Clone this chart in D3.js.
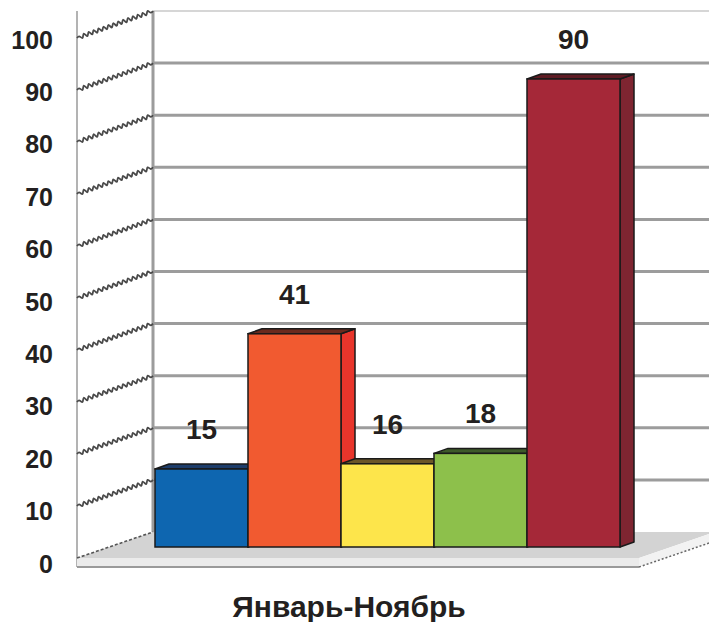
<!DOCTYPE html>
<html><head><meta charset="utf-8">
<script src="https://cdn.jsdelivr.net/npm/d3@7"></script>
<style>
html,body{margin:0;padding:0;background:#fff;}
svg{display:block;}
text{font-family:"Liberation Sans",Arial,sans-serif;font-weight:bold;fill:#231f20;}
</style></head>
<body>
<script>
// ---- data ----
const categories = ["A","B","C","D","E"];
const values = [15, 41, 16, 18, 90];
const barColors = ["#0e66b0", "#f15a30", "#fde54b", "#8dc04b", "#a52838"];
const topColors = ["#1d3d6b", "#6a2a1e", "#6b5628", "#3e5a2a", "#5e1c24"];
const sideColors = ["#0b4f8a", "#e8352b", "#d9bf2e", "#6f9a35", "#7e2531"];
const tickValues = [0,10,20,30,40,50,60,70,80,90,100];
const xTitle = "Январь-Ноябрь";

const W = 709, H = 622;
const svg = d3.select("body").append("svg").attr("width", W).attr("height", H);

// planes: front edge of left wall, bar plane, back wall
const yFront = d3.scaleLinear().domain([0,100]).range([558, 38]);
const yBar   = d3.scaleLinear().domain([0,100]).range([547, 27]);
const yBack  = d3.scaleLinear().domain([0,100]).range([532, 11]);
const yLabel = d3.scaleLinear().domain([0,100]).range([564, 40]);
const xFront = 77, xBack = 153, xRight = 715;
const x = d3.scaleBand().domain(categories).range([155, 620]).padding(0);
const depthX = 14, depthY = -5;

// back wall top line
svg.append("line").attr("x1", xBack).attr("x2", W).attr("y1", yBack(100)).attr("y2", yBack(100))
  .attr("stroke", "#c8c8c8").attr("stroke-width", 1.5);
// left wall front vertical line
svg.append("line").attr("x1", xFront).attr("x2", xFront).attr("y1", yBack(100)).attr("y2", 567)
  .attr("stroke", "#9a9a9a").attr("stroke-width", 1.5);

// back wall gridlines
svg.append("g").selectAll("line").data(tickValues.filter(d => d > 0 && d < 100)).join("line")
  .attr("x1", xBack).attr("x2", W)
  .attr("y1", d => yBack(d)).attr("y2", d => yBack(d))
  .attr("stroke", "#9c9c9c").attr("stroke-width", 3);

// floor
const floorBack = yBack(0), floorFront = yFront(0), floorBottom = 567;
svg.append("polygon")
  .attr("points", [[xFront, floorFront],[xBack, floorBack],[xRight, floorBack],[xRight - (xBack - xFront), floorFront]].join(" "))
  .attr("fill", "#d3d3d3");
svg.append("rect").attr("x", xFront).attr("y", floorFront)
  .attr("width", (xRight - (xBack - xFront)) - xFront).attr("height", floorBottom - floorFront)
  .attr("fill", "#ebebeb");
svg.append("polygon")
  .attr("points", [[xRight-(xBack-xFront), floorFront],[xRight, floorBack],[xRight, floorBack+9],[xRight-(xBack-xFront), floorBottom]].join(" "))
  .attr("fill", "#f2f2f2");
svg.append("line").attr("x1", xFront).attr("x2", xRight-(xBack-xFront)).attr("y1", floorBottom).attr("y2", floorBottom)
  .attr("stroke", "#9a9a9a").attr("stroke-width", 2);
svg.append("line").attr("x1", xRight-(xBack-xFront)).attr("y1", floorBottom).attr("x2", xRight).attr("y2", floorBack+9)
  .attr("stroke", "#666").attr("stroke-width", 1.5).attr("stroke-dasharray", "2,2");

// back wall left vertical edge
svg.append("line").attr("x1", xBack).attr("x2", xBack).attr("y1", yBack(100)).attr("y2", floorBack)
  .attr("stroke", "#9c9c9c").attr("stroke-width", 3);

// left wall wavy lines
function wavy(x1, y1, x2, y2) {
  const len = Math.hypot(x2 - x1, y2 - y1);
  const n = Math.round(len / 2.6);
  const nx = -(y2 - y1) / len, ny = (x2 - x1) / len;
  const pts = d3.range(n + 1).map(i => {
    const t = i / n;
    const o = (i % 2 === 0 ? 1 : -1) * 1.8 * Math.min(1, Math.min(i, n - i) / 2);
    return [x1 + (x2 - x1) * t + nx * o, y1 + (y2 - y1) * t + ny * o];
  });
  return d3.line().curve(d3.curveCardinal)(pts);
}
svg.append("g").selectAll("path").data(tickValues.filter(d => d > 0)).join("path")
  .attr("d", d => wavy(xFront, yFront(d), xBack, yBack(d)))
  .attr("fill", "none").attr("stroke", "#4a4a4a").attr("stroke-width", 1.8);
svg.append("line").attr("x1", xFront).attr("y1", yFront(0)).attr("x2", xBack).attr("y2", yBack(0))
  .attr("stroke", "#555").attr("stroke-width", 1.6).attr("stroke-dasharray", "3,2");

// bars
const bars = svg.append("g").selectAll("g").data(values).join("g");
bars.each(function(v, i) {
  const g = d3.select(this);
  const x0 = x(categories[i]), x1 = x0 + x.bandwidth();
  const yT = yBar(v), yB = yBar(0);
  g.append("polygon")
    .attr("points", [[x1, yT],[x1 + depthX, yT + depthY],[x1 + depthX, yB + depthY],[x1, yB]].join(" "))
    .attr("fill", sideColors[i]).attr("stroke", "#1a1a1a").attr("stroke-width", 1.5).attr("stroke-linejoin", "round");
  g.append("polygon")
    .attr("points", [[x0, yT],[x0 + depthX, yT + depthY],[x1 + depthX, yT + depthY],[x1, yT]].join(" "))
    .attr("fill", topColors[i]).attr("stroke", "#1a1a1a").attr("stroke-width", 1.5).attr("stroke-linejoin", "round");
  g.append("rect").attr("x", x0).attr("y", yT).attr("width", x1 - x0).attr("height", yB - yT)
    .attr("fill", barColors[i]).attr("stroke", "#1a1a1a").attr("stroke-width", 1.5);
});

// value labels
svg.append("g").selectAll("text").data(values).join("text")
  .attr("x", (d, i) => x(categories[i]) + x.bandwidth() / 2)
  .attr("y", d => yBar(d) - 30)
  .attr("text-anchor", "middle").attr("font-size", 28)
  .text(d => d);

// y axis labels
const ax = svg.append("g").attr("transform", "translate(53,0)")
  .call(d3.axisLeft(yLabel).tickValues(tickValues).tickSize(0).tickPadding(0));
ax.select(".domain").remove();
ax.selectAll("text").attr("font-size", 25).attr("font-family", "Liberation Sans, Arial, sans-serif")
  .attr("font-weight", "bold").attr("fill", "#231f20");

// x title
svg.append("text").attr("x", 349).attr("y", 617).attr("text-anchor", "middle")
  .attr("font-size", 30).text(xTitle);
</script>
</body></html>
